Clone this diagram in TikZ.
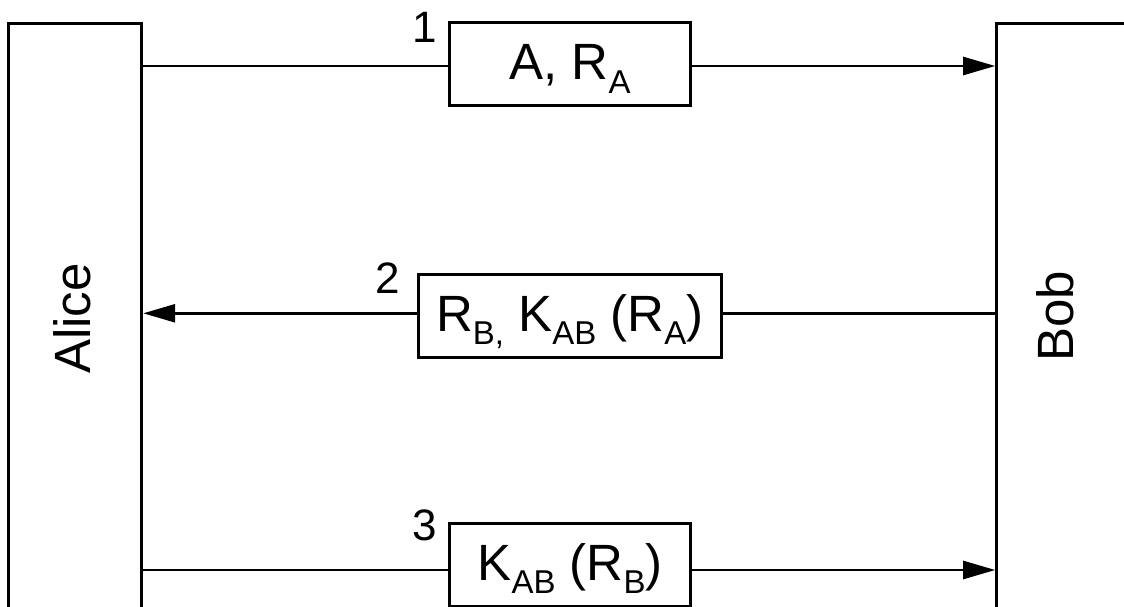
\documentclass[tikz,border=0pt]{standalone}
\usepackage{fontspec}
\setmainfont{Liberation Sans}
\usetikzlibrary{arrows.meta}
\newcommand{\sbs}[1]{\raisebox{-13.3pt}{\fontsize{33}{33}\selectfont #1}}
\begin{document}
\begin{tikzpicture}[x=1pt,y=-1pt,
  actor/.style={draw, line width=3pt, rectangle, inner sep=0pt, minimum width=133pt, minimum height=600pt},
  actorlabel/.style={rotate=90, anchor=base, inner sep=0pt, font=\fontsize{51}{51}\selectfont},
  msg/.style={draw, line width=3pt, rectangle, inner sep=0pt, minimum height=83.3pt, text height=40pt, text depth=8.6pt, font=\fontsize{51}{51}\selectfont},
  num/.style={anchor=base, inner sep=0pt, font=\fontsize{44}{44}\selectfont},
  wire/.style={line width=2.5pt},
  arrow/.style={line width=2.5pt, -{Triangle[length=32pt,width=18pt]}}]
\useasboundingbox (0,0) rectangle (1124,607);
% actors
\node[actor] (alice) at (75.2,324) {};
\node[actor] (bob) at (1063.2,324) {};
\node[actorlabel] (alicetext) at (90,318.5) {Alice};
\node[actorlabel] (bobtext) at (1073,316.5) {Bob};
% messages
\node[msg, minimum width=241.7pt] (msg1) at (570,64.3) {A, R\sbs{A}};
\node[msg, minimum width=302.7pt] (msg2) at (569.7,315.7) {R\sbs{B,} K\sbs{AB} (R\sbs{A})};
\node[msg, minimum width=241.7pt] (msg3) at (570,564.7) {K\sbs{AB} (R\sbs{B})};
% numbers
\node[num] (n1) at (425,43) {1};
\node[num] (n2) at (388,293) {2};
\node[num] (n3) at (424.5,540) {3};
% message levels
\coordinate (l1) at (0,66);
\coordinate (l2) at (0,313.3);
\coordinate (l3) at (0,570);
% connectors
\draw[wire] (alice.east |- l1) -- (msg1.west |- l1);
\draw[arrow] (msg1.east |- l1) -- (bob.west |- l1);
\draw[wire] (bob.west |- l2) -- (msg2.east |- l2);
\draw[arrow] (msg2.west |- l2) -- (alice.east |- l2);
\draw[wire] (alice.east |- l3) -- (msg3.west |- l3);
\draw[arrow] (msg3.east |- l3) -- (bob.west |- l3);
\end{tikzpicture}
\end{document}
